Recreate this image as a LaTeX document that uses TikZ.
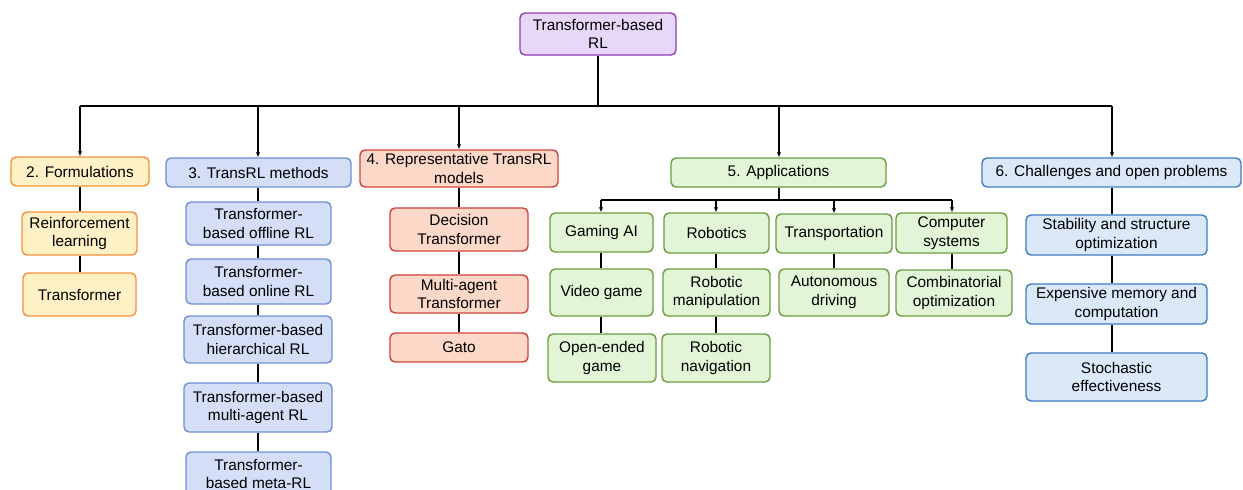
\documentclass[tikz,border=0pt]{standalone}
\usepackage{fontspec}
\setmainfont{Liberation Sans}
\usetikzlibrary{arrows.meta}

\definecolor{purpleD}{HTML}{8E3DBF}\definecolor{purpleL}{HTML}{E8D8F7}
\definecolor{orangeD}{HTML}{F4913B}\definecolor{orangeL}{HTML}{FFF0C6}
\definecolor{methD}{HTML}{6D8FD8}\definecolor{methL}{HTML}{D4DEF7}
\definecolor{redD}{HTML}{D0403A}\definecolor{redL}{HTML}{FBD8C8}
\definecolor{greenD}{HTML}{6B9B3F}\definecolor{greenL}{HTML}{E3F5D7}
\definecolor{blueD}{HTML}{3B7DC4}\definecolor{blueL}{HTML}{DAE8F8}

\tikzset{
  base/.style={rounded corners=5pt, line width=1.4pt, align=center, inner sep=0pt,
    font=\fontsize{15.4}{18.5}\selectfont},
  rootbox/.style={base, draw=purpleD, fill=purpleL},
  formbox/.style={base, draw=orangeD, fill=orangeL},
  methbox/.style={base, draw=methD, fill=methL},
  modbox/.style={base, draw=redD, fill=redL},
  appbox/.style={base, draw=greenD, fill=greenL},
  chalbox/.style={base, draw=blueD, fill=blueL},
  link/.style={line width=1.7pt, draw=black},
  arr/.style={link, -{Latex[length=5pt,width=4.5pt]}},
}

% box by its corners: name, x1, y1, x2, y2, style, text
\newcommand\bx[7]{%
  \node[#6, minimum width={(#4-#2)*1pt}, minimum height={(#5-#3)*1pt}]
    (#1) at ({(#2+#4)/2},{(#3+#5)/2}) {#7};}

\begin{document}
\begin{tikzpicture}[x=1pt,y=-1pt]
\useasboundingbox (0,0) rectangle (1243,490);
\clip (0,0) rectangle (1243,490);

% root
\bx{root}{520}{13}{676}{55}{rootbox}{Transformer-based\\RL}

% sections
\bx{form}{11}{157}{149}{186}{formbox}{2. Formulations}
\bx{meth}{166}{158}{351}{187}{methbox}{3. TransRL methods}
\bx{mods}{360}{150}{558}{187}{modbox}{4. Representative TransRL\\models}
\bx{app}{671}{158}{886}{187}{appbox}{5. Applications}
\bx{chal}{982}{158}{1241}{187}{chalbox}{6. Challenges and open problems}

% formulations
\bx{rl}{22}{212}{137}{255}{formbox}{Reinforcement\\learning}
\bx{tf}{23}{273}{136}{316}{formbox}{Transformer}

% methods
\bx{off}{186}{202}{331}{245}{methbox}{Transformer-\\based offline RL}
\bx{on}{186}{259}{331}{304}{methbox}{Transformer-\\based online RL}
\bx{hier}{184}{316}{332}{363}{methbox}{Transformer-based\\hierarchical RL}
\bx{marl}{184}{383}{332}{432}{methbox}{Transformer-based\\multi-agent RL}
\bx{meta}{186}{452}{331}{496}{methbox}{Transformer-\\based meta-RL}

% models
\bx{dt}{390}{208}{528}{251}{modbox}{Decision\\Transformer}
\bx{mat}{390}{275}{528}{313}{modbox}{Multi-agent\\Transformer}
\bx{gato}{390}{333}{528}{362}{modbox}{Gato}

% applications
\bx{game}{550}{213}{653}{252}{appbox}{Gaming AI}
\bx{robo}{664}{213}{769}{253}{appbox}{Robotics}
\bx{trans}{776}{214}{892}{253}{appbox}{Transportation}
\bx{comp}{896}{213}{1007}{253}{appbox}{Computer\\systems}
\bx{video}{550}{269}{653}{316}{appbox}{Video game}
\bx{manip}{663}{269}{770}{316}{appbox}{Robotic\\manipulation}
\bx{auto}{779}{269}{889}{316}{appbox}{Autonomous\\driving}
\bx{combo}{896}{270}{1012}{316}{appbox}{Combinatorial\\optimization}
\bx{open}{548}{334}{656}{382}{appbox}{Open-ended\\game}
\bx{nav}{662}{334}{770}{382}{appbox}{Robotic\\navigation}

% challenges
\bx{stab}{1026}{215}{1207}{255}{chalbox}{Stability and structure\\optimization}
\bx{mem}{1026}{284}{1207}{324}{chalbox}{Expensive memory and\\computation}
\bx{stoch}{1026}{353}{1207}{401}{chalbox}{Stochastic\\effectiveness}

% column axes of the connectors
\coordinate (fx) at (80,0);
\coordinate (mx) at (258,0);
\coordinate (rx) at (459,0);
\coordinate (ax) at (779,0);
\coordinate (cx) at (1112,0);
\coordinate (g1) at (601,0);
\coordinate (g2) at (716,0);
\coordinate (g3) at (834,0);
\coordinate (g4) at (952,0);

% top-level bus
\coordinate (bus) at (598,106);
\draw[link] (root.south) -- (root.south |- bus);
\draw[link] (fx |- bus) -- (cx |- bus);
\draw[arr] (fx |- bus) -- (fx |- form.north);
\draw[arr] (mx |- bus) -- (mx |- meth.north);
\draw[arr] (rx |- bus) -- (rx |- mods.north);
\draw[arr] (ax |- bus) -- (ax |- app.north);
\draw[arr] (cx |- bus) -- (cx |- chal.north);

% applications bus
\coordinate (abus) at (779,200);
\draw[link] (ax |- app.south) -- (abus);
\draw[link] (g1 |- abus) -- (g4 |- abus);
\draw[arr] (g1 |- abus) -- (g1 |- game.north);
\draw[arr] (g2 |- abus) -- (g2 |- robo.north);
\draw[arr] (g3 |- abus) -- (g3 |- trans.north);
\draw[arr] (g4 |- abus) -- (g4 |- comp.north);

% chains
\draw[link] (fx |- form.south) -- (fx |- rl.north);
\draw[link] (fx |- rl.south) -- (fx |- tf.north);
\draw[link] (mx |- meth.south) -- (mx |- off.north);
\draw[link] (mx |- off.south) -- (mx |- on.north);
\draw[link] (mx |- on.south) -- (mx |- hier.north);
\draw[link] (mx |- hier.south) -- (mx |- marl.north);
\draw[link] (mx |- marl.south) -- (mx |- meta.north);
\draw[link] (rx |- mods.south) -- (rx |- dt.north);
\draw[link] (rx |- dt.south) -- (rx |- mat.north);
\draw[link] (rx |- mat.south) -- (rx |- gato.north);
\draw[link] (g1 |- game.south) -- (g1 |- video.north);
\draw[link] (g1 |- video.south) -- (g1 |- open.north);
\draw[link] (g2 |- robo.south) -- (g2 |- manip.north);
\draw[link] (g2 |- manip.south) -- (g2 |- nav.north);
\draw[link] (g3 |- trans.south) -- (g3 |- auto.north);
\draw[link] (g4 |- comp.south) -- (g4 |- combo.north);
\draw[link] (cx |- chal.south) -- (cx |- stab.north);
\draw[link] (cx |- stab.south) -- (cx |- mem.north);
\draw[link] (cx |- mem.south) -- (cx |- stoch.north);
\end{tikzpicture}
\end{document}
